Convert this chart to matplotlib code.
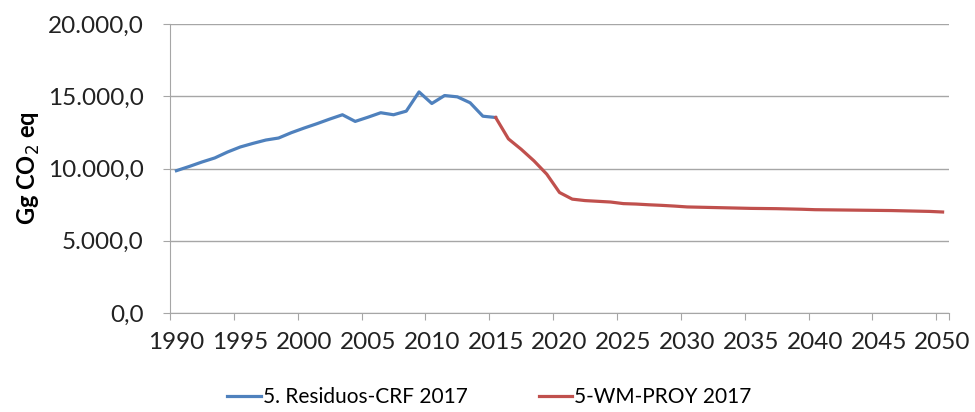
import matplotlib.pyplot as plt
from matplotlib.ticker import FuncFormatter, FixedLocator

# Data (Gg CO2 eq)
hist_years = list(range(1990, 2016))
hist_values = [9850, 10140, 10450, 10730, 11140, 11490, 11740, 11970, 12110, 12480,
               12800, 13100, 13420, 13720, 13260, 13550, 13860, 13720, 13970, 15300,
               14500, 15050, 14960, 14550, 13620, 13530]

proj_years = list(range(2015, 2051))
proj_values = [13530, 12050, 11330, 10530, 9610, 8340, 7880, 7780, 7730, 7680,
               7570, 7540, 7490, 7450, 7400, 7340, 7320, 7300, 7280, 7260,
               7240, 7230, 7220, 7200, 7180, 7150, 7140, 7130, 7120, 7110,
               7100, 7090, 7070, 7050, 7030, 6990]

hist_label = "5. Residuos-CRF 2017"
proj_label = "5-WM-PROY 2017"
tick_years = list(range(1990, 2051, 5))

plt.rcParams['font.family'] = ['Lato', 'DejaVu Sans']

fig = plt.figure(figsize=(9.75, 4.12), dpi=100)
ax = fig.add_axes([0.1744, 0.2403, 0.7989, 0.7014])

ax.plot(hist_years, hist_values, color="#4F81BD", lw=2.3, label=hist_label)
ax.plot(proj_years, proj_values, color="#C0504D", lw=2.3, label=proj_label)

ax.set_xlim(1989.5, 2050.5)
ax.set_ylim(0, 20000)

# y axis
ax.set_yticks(range(0, 20001, 5000))
ax.yaxis.set_major_formatter(FuncFormatter(
    lambda v, p: f"{v:,.1f}".replace(",", "X").replace(".", ",").replace("X", ".")))
ax.grid(axis="y", color="#A6A6A6", lw=1)
ax.set_axisbelow(True)

# x axis: labels at category centres, ticks at category boundaries
ax.xaxis.set_major_locator(FixedLocator([y - 0.5 for y in tick_years] + [2050.5]))
ax.xaxis.set_major_formatter(FuncFormatter(lambda v, p: ""))
ax.xaxis.set_minor_locator(FixedLocator(tick_years))
ax.xaxis.set_minor_formatter(FuncFormatter(lambda v, p: f"{int(round(v))}"))
ax.tick_params(axis="x", which="minor", length=0, pad=14, labelsize=17.5, colors="#222222")
ax.tick_params(axis="x", which="major", length=5, color="#A6A6A6")
ax.tick_params(axis="y", length=5, color="#A6A6A6", labelsize=17.5, labelcolor="#222222", pad=14)

for s in ["top", "right"]:
    ax.spines[s].set_visible(False)
for s in ["left", "bottom"]:
    ax.spines[s].set_color("#A6A6A6")

ax.set_ylabel(r"Gg CO$_2$ eq", fontsize=17, fontweight="bold", labelpad=4)

fig.legend(loc="center", bbox_to_anchor=(0.502, 0.036), ncol=2, frameon=False,
           fontsize=15, handlelength=1.6, handletextpad=0.1, columnspacing=3.4)

fig.savefig("out.png", dpi=100)
